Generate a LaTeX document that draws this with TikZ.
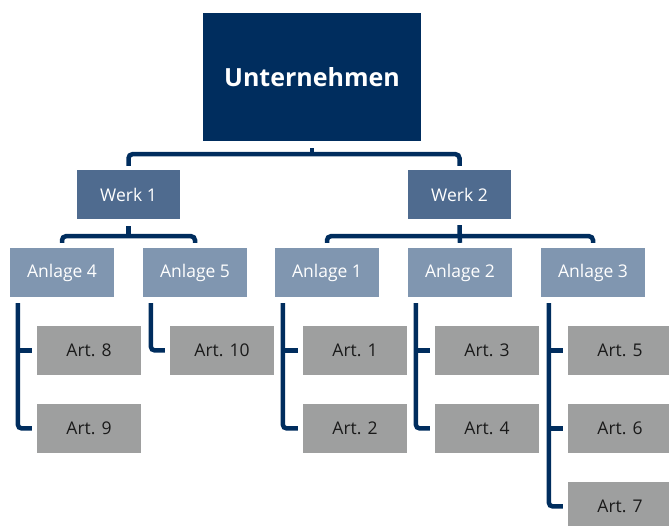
\documentclass[tikz,border=0pt]{standalone}
\definecolor{navy}{HTML}{002D5E}
\definecolor{werkblue}{HTML}{4F6B8F}
\definecolor{anlblue}{HTML}{8096B0}
\definecolor{artgrey}{HTML}{9E9F9F}
\definecolor{arttext}{HTML}{1A1A1A}
\usepackage{fontspec}
\setmainfont{Open Sans}
\usepackage{tikz}
\usetikzlibrary{calc}

\tikzset{
	firm/.style={fill=navy, text=white, minimum width=218pt, minimum height=128pt, inner sep=0pt, font=\fontsize{25}{28}\selectfont\bfseries},
	werkbox/.style={fill=werkblue, text=white, minimum width=103pt, minimum height=49pt, inner sep=0pt, font=\fontsize{17.5}{20}\selectfont},
	anlbox/.style={fill=anlblue, text=white, minimum width=104pt, minimum height=49pt, inner sep=0pt, font=\fontsize{17.5}{20}\selectfont},
	artbox/.style={fill=artgrey, text=arttext, minimum width=104pt, minimum height=49pt, inner sep=0pt, font=\fontsize{17.5}{20}\selectfont},
	conn/.style={draw=navy, line width=4.5pt, rounded corners=4pt}
}

\begin{document}
\begin{tikzpicture}[x=1pt, y=1pt]
	\useasboundingbox (0,0) rectangle (669,526);
	% boxes
	\node[firm] (firm) at (312,449) {Unternehmen};
	\node[werkbox] (w1) at (128.5,331.5) {Werk 1};
	\node[werkbox] (w2) at (459.5,331.5) {Werk 2};
	\foreach \n/\x in {4/62, 5/195, 1/327, 2/460, 3/593}
	\node[anlbox] (a\n) at (\x,253.5) {Anlage \n};
	\foreach \n/\x/\y in {8/89/175.5, 9/89/97.5, 10/222/175.5, 1/355/175.5, 2/355/97.5, 3/487/175.5, 4/487/97.5, 5/620/175.5, 6/620/97.5, 7/620/19.5}
	\node[artbox] (art\n) at (\x,\y) {Art. \n};
	% Unternehmen -> Werke
	\coordinate (fbar) at ([yshift=-13pt]firm.south);
	\draw[conn] ([yshift=-7pt]firm.south) -- (fbar);
	\draw[conn] ([yshift=4pt]w1.north) |- (fbar) -| ([yshift=4pt]w2.north);
	% Werk 1 -> Anlagen
	\coordinate (w1bar) at ([yshift=-17pt]w1.south);
	\draw[conn] ([yshift=-7pt]w1.south) -- (w1bar);
	\draw[conn] ([yshift=5pt]a4.north) |- (w1bar) -| ([yshift=5pt]a5.north);
	% Werk 2 -> Anlagen
	\coordinate (w2bar) at ([yshift=-17pt]w2.south);
	\draw[conn] ([yshift=-6pt]w2.south) -- ([yshift=5pt]a2.north);
	\draw[conn] ([yshift=5pt]a1.north) |- (w2bar) -| ([yshift=5pt]a3.north);
	% Anlagen -> Artikel
	\foreach \n in {4,5,1,2,3}
	\coordinate (v\n) at ([xshift=8pt,yshift=-6pt]a\n.south west);
	\draw[conn] (v4) |- ([xshift=-5pt]art9.west);
	\draw[conn] (v4 |- art8.west) -- ([xshift=-5pt]art8.west);
	\draw[conn] (v5) |- ([xshift=-5pt]art10.west);
	\draw[conn] (v1) |- ([xshift=-5pt]art2.west);
	\draw[conn] (v1 |- art1.west) -- ([xshift=-5pt]art1.west);
	\draw[conn] (v2) |- ([xshift=-5pt]art4.west);
	\draw[conn] (v2 |- art3.west) -- ([xshift=-5pt]art3.west);
	\draw[conn] (v3) |- ([xshift=-5pt]art7.west);
	\draw[conn] (v3 |- art5.west) -- ([xshift=-5pt]art5.west);
	\draw[conn] (v3 |- art6.west) -- ([xshift=-5pt]art6.west);
\end{tikzpicture}
\end{document}
